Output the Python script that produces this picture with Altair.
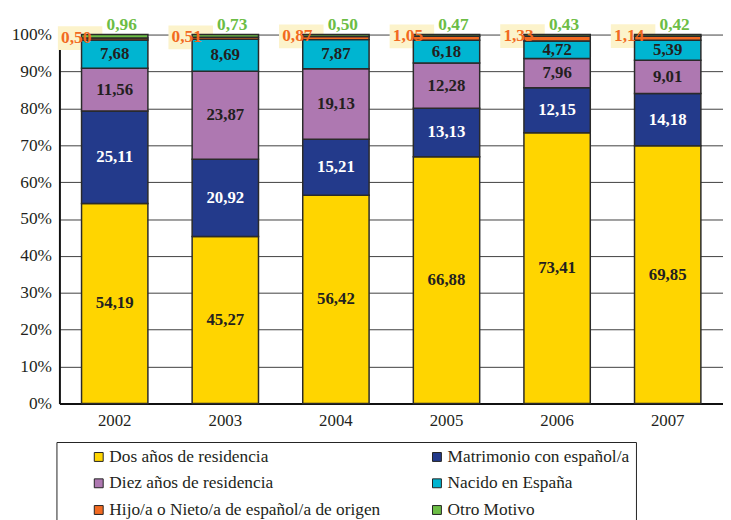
import altair as alt
import pandas as pd

years = ["2002", "2003", "2004", "2005", "2006", "2007"]
categories = [
    "Dos años de residencia",
    "Matrimonio con español/a",
    "Diez años de residencia",
    "Nacido en España",
    "Hijo/a o Nieto/a de español/a de origen",
    "Otro Motivo",
]
dos = [54.19, 45.27, 56.42, 66.88, 73.41, 69.85]
matrimonio = [25.11, 20.92, 15.21, 13.13, 12.15, 14.18]
diez = [11.56, 23.87, 19.13, 12.28, 7.96, 9.01]
nacido = [7.68, 8.69, 7.87, 6.18, 4.72, 5.39]
hijo = [0.50, 0.51, 0.87, 1.05, 1.33, 1.14]
otro = [0.96, 0.73, 0.50, 0.47, 0.43, 0.42]
colors = ["#FFD500", "#233A8B", "#AE78B1", "#00B5D1", "#F26A21", "#6CBD45"]
y_ticks = [0, 10, 20, 30, 40, 50, 60, 70, 80, 90, 100]

series = [dos, matrimonio, diez, nacido, hijo, otro]
rows = []
for ci, (cat, vals) in enumerate(zip(categories, series)):
    for yr, v in zip(years, vals):
        rows.append({"year": yr, "cat": cat, "order": ci, "value": v})
df = pd.DataFrame(rows)

FONT = "'Liberation Serif', 'Times New Roman', 'DejaVu Serif', serif"
DARK = "#231F20"

x_axis = alt.Axis(
    title=None, labelAngle=0, ticks=False, domainColor="#111111", domainWidth=2,
    labelPadding=9, labelFont=FONT, labelFontSize=17, labelColor=DARK,
)
y_axis = alt.Axis(
    title=None, values=y_ticks, labelExpr="datum.value + '%'",
    grid=True, gridColor="#404040", gridWidth=1, ticks=False,
    domainColor="#111111", domainWidth=2, labelPadding=8, labelOverlap=False,
    labelFont=FONT, labelFontSize=17.5, labelColor=DARK,
)
x_scale = alt.Scale(paddingInner=0.4, paddingOuter=0.2)
y_scale = alt.Scale(domain=[0, 100], nice=False)

def X():
    return alt.X("year:N", scale=x_scale, axis=x_axis)

def Y(field):
    return alt.Y(field, scale=y_scale, axis=y_axis)

base = alt.Chart(df)

legend_order = [categories[0], categories[2], categories[4],
                categories[1], categories[3], categories[5]]

bars = base.mark_bar(stroke="#2A2A2A", strokeWidth=1.5).encode(
    x=X(),
    y=alt.Y("value:Q", stack="zero", scale=y_scale, axis=y_axis),
    color=alt.Color(
        "cat:N",
        scale=alt.Scale(domain=categories, range=colors),
        legend=alt.Legend(
            title=None, orient="none", legendX=-3, legendY=412,
            columns=2, direction="vertical", values=legend_order,
            gridAlign="all", strokeColor="#222222", padding=6,
            symbolType="square", symbolSize=81, symbolStrokeColor="#222222",
            symbolStrokeWidth=1, symbolOffset=28, labelOffset=2,
            labelFont=FONT, labelFontSize=17.5, labelColor=DARK, labelLimit=0,
            rowPadding=8, columnPadding=20,
        ),
    ),
    order=alt.Order("order:Q"),
)

stacked = base.transform_stack(
    stack="value", groupby=["year"], as_=["v0", "v1"], sort=[alt.SortField("order")]
).transform_calculate(
    mid="(datum.v0 + datum.v1) / 2",
    label="replace(format(datum.value, '.2f'), '.', ',')",
)

inner = stacked.transform_filter("datum.order < 4").mark_text(
    font=FONT, fontWeight="bold", fontSize=17, baseline="middle"
).encode(
    x=X(),
    y=Y("mid:Q"),
    text="label:N",
    color=alt.condition("datum.order == 1", alt.value("white"), alt.value(DARK)),
)

box = stacked.transform_filter("datum.order == 4").mark_point(
    shape="M-1,-0.533L1,-0.533L1,0.533L-1,0.533Z", size=2025, filled=True,
    fill="#FCF3CB", opacity=1, strokeWidth=0, xOffset=-35,
).encode(x=X(), y=Y("v1:Q"))

orange_txt = stacked.transform_filter("datum.order == 4").mark_text(
    font=FONT, fontWeight="bold", fontSize=17.5, baseline="middle", dx=-39, color="#F26A21"
).encode(x=X(), y=Y("v1:Q"), text="label:N")

green_txt = stacked.transform_filter("datum.order == 5").mark_text(
    font=FONT, fontWeight="bold", fontSize=17.5, baseline="middle", dx=7, dy=-10, color="#6CBD45"
).encode(x=X(), y=Y("v1:Q"), text="label:N")

chart = alt.layer(box, bars, inner, orange_txt, green_txt).properties(
    width=671, height=373, autosize="none",
    padding={"left": 52, "top": 24, "right": 0, "bottom": 115},
).configure_view(stroke=None).configure_axis(
    labelFont=FONT, labelColor=DARK
).configure_legend(
    labelFont=FONT, labelColor=DARK
)

chart.save("out.html", embed_options={"renderer": "svg", "actions": False})
